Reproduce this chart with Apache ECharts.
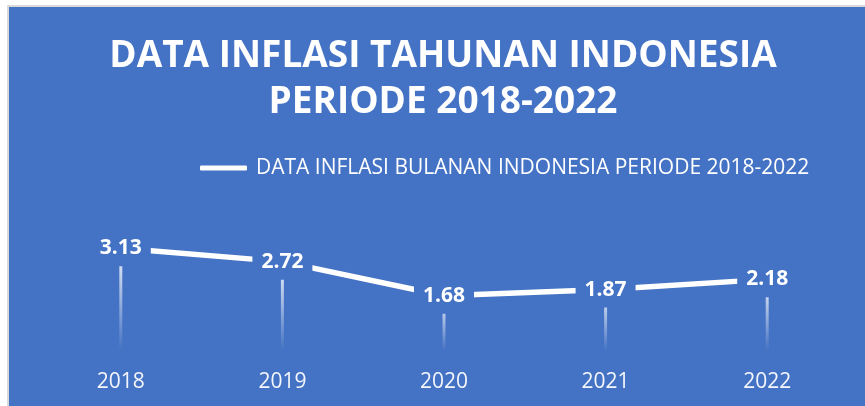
<!DOCTYPE html>
<html>
<head>
<meta charset="utf-8">
<script src="https://cdn.jsdelivr.net/npm/echarts@6/dist/echarts.min.js"></script>
<style>
html,body{margin:0;padding:0;background:#ffffff;overflow:hidden;}
#bg{position:absolute;left:7px;top:5px;width:870px;height:410px;border:2px solid #d9d9d9;background:#4472C4;}
#chart{position:absolute;left:0;top:0;width:865px;height:406px;}
</style>
</head>
<body>
<div id="bg"></div>
<div id="chart"></div>
<script>
const titleText = 'DATA INFLASI TAHUNAN INDONESIA\nPERIODE 2018-2022';
const seriesName = 'DATA INFLASI BULANAN INDONESIA PERIODE 2018-2022';
const categories = ['2018', '2019', '2020', '2021', '2022'];
const values = [3.13, 2.72, 1.68, 1.87, 2.18];

const chart = echarts.init(document.getElementById('chart'), null, {renderer: 'canvas'});
const blue = '#4472C4';
const option = {
  backgroundColor: 'transparent',
  animation: false,
  title: {
    text: titleText,
    left: 443,
    top: 33,
    textAlign: 'center',
    padding: 0,
    textStyle: {
      color: '#ffffff',
      fontFamily: 'Open Sans',
      fontWeight: 'bold',
      fontSize: 37,
      lineHeight: 46
    }
  },
  legend: {
    data: [seriesName],
    left: 200,
    top: 156,
    padding: 0,
    icon: 'roundRect',
    itemWidth: 47,
    itemHeight: 5,
    itemStyle: {color: '#ffffff'},
    lineStyle: {color: '#ffffff'},
    textStyle: {
      color: '#ffffff',
      fontFamily: 'Open Sans',
      fontSize: 21,
      lineHeight: 24,
      padding: [0, 0, 0, 4]
    }
  },
  grid: {left: 40, right: 17, top: 236, bottom: 55, containLabel: false},
  xAxis: {
    type: 'category',
    data: categories,
    boundaryGap: true,
    axisLine: {show: false},
    axisTick: {show: false},
    splitLine: {show: false},
    axisLabel: {
      color: '#f4f6fb',
      fontFamily: 'Open Sans',
      fontSize: 21,
      margin: 21
    }
  },
  yAxis: {
    type: 'value',
    min: 0,
    max: 3.5,
    show: false,
    splitLine: {show: false}
  },
  series: [
    {
      name: 'drop',
      type: 'bar',
      data: values,
      barWidth: 3,
      silent: true,
      z: 1,
      itemStyle: {
        color: new echarts.graphic.LinearGradient(0, 0, 0, 1, [
          {offset: 0, color: 'rgba(255,255,255,0.92)'},
          {offset: 1, color: 'rgba(255,255,255,0)'}
        ])
      }
    },
    {
      name: seriesName,
      type: 'line',
      data: values,
      z: 3,
      symbol: 'circle',
      symbolSize: 1,
      showSymbol: true,
      lineStyle: {color: '#ffffff', width: 5.5},
      itemStyle: {color: '#ffffff'},
      labelLayout: {hideOverlap: false},
      label: {
        show: true,
        position: 'inside',
        color: '#ffffff',
        fontFamily: 'Open Sans',
        fontWeight: 'bold',
        fontSize: 21,
        lineHeight: 28,
        backgroundColor: blue,
        padding: [4, 9],
        formatter: (p) => p.value.toFixed(2)
      }
    }
  ]
};
chart.setOption(option);
</script>
</body>
</html>
